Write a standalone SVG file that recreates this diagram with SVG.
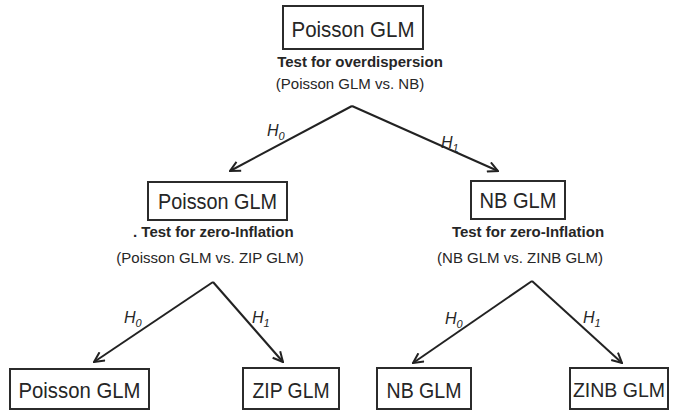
<svg xmlns="http://www.w3.org/2000/svg" width="673" height="411" viewBox="0 0 673 411">
  <style>
    .box { fill: #ffffff; stroke: #2b2b2b; stroke-width: 2; }
    .lbl { font-family: "Liberation Sans", Arial, sans-serif; font-size: 22px; fill: #262626; text-anchor: middle; }
    .test { font-family: "Liberation Sans", Arial, sans-serif; font-size: 15px; font-weight: bold; fill: #262626; text-anchor: middle; }
    .start { text-anchor: start; }
    .cmp { font-family: "Liberation Sans", Arial, sans-serif; font-size: 15px; fill: #262626; text-anchor: middle; }
    .h { font-family: "Liberation Sans", Arial, sans-serif; font-size: 16px; font-style: italic; fill: #262626; }
    .sub { font-size: 11px; }
    .edge { stroke: #222222; stroke-width: 2; fill: none; marker-end: url(#arrow); }
  </style>
  <defs>
    <marker id="arrow" viewBox="0 0 12 12" refX="11" refY="6" markerWidth="12" markerHeight="12" markerUnits="userSpaceOnUse" orient="auto">
      <path d="M1,1 L11,6 L1,11" fill="none" stroke="#222222" stroke-width="2" stroke-linejoin="miter"/>
    </marker>
  </defs>

  <!-- connectors -->
  <g id="connectors">
    <line class="edge" x1="352" y1="106" x2="230" y2="171"/>
    <line class="edge" x1="352" y1="106" x2="498" y2="171"/>
    <line class="edge" x1="213" y1="282" x2="94" y2="362"/>
    <line class="edge" x1="213" y1="282" x2="283" y2="362"/>
    <line class="edge" x1="532" y1="281" x2="413" y2="363"/>
    <line class="edge" x1="532" y1="281" x2="622" y2="363"/>
    <text class="h" x="267" y="136">H<tspan class="sub" dy="4">0</tspan></text>
    <text class="h" x="441" y="148">H<tspan class="sub" dy="4">1</tspan></text>
    <text class="h" x="124" y="323">H<tspan class="sub" dy="4">0</tspan></text>
    <text class="h" x="252" y="323">H<tspan class="sub" dy="4">1</tspan></text>
    <text class="h" x="445" y="324">H<tspan class="sub" dy="4">0</tspan></text>
    <text class="h" x="583" y="323">H<tspan class="sub" dy="4">1</tspan></text>
  </g>

  <!-- root: overdispersion test -->
  <g id="root">
    <rect class="box" x="283" y="6" width="140" height="43"/>
    <text class="lbl" x="353" y="37" textLength="123" lengthAdjust="spacingAndGlyphs">Poisson GLM</text>
    <text class="test" x="360" y="67">Test for overdispersion</text>
    <text class="cmp" x="350" y="89">(Poisson GLM vs. NB)</text>
  </g>

  <!-- H0 branch: Poisson, zero-inflation test -->
  <g id="poisson-mid">
    <rect class="box" x="148" y="182" width="139" height="38"/>
    <text class="lbl" x="217.5" y="209" textLength="119" lengthAdjust="spacingAndGlyphs">Poisson GLM</text>
    <text class="test start" x="133" y="237">. Test for zero-Inflation</text>
    <text class="cmp" x="210" y="263">(Poisson GLM vs. ZIP GLM)</text>
  </g>

  <!-- H1 branch: NB, zero-inflation test -->
  <g id="nb-mid">
    <rect class="box" x="471" y="181" width="94" height="38"/>
    <text class="lbl" x="518" y="208" textLength="77" lengthAdjust="spacingAndGlyphs">NB GLM</text>
    <text class="test" x="528" y="237">Test for zero-Inflation</text>
    <text class="cmp" x="520" y="263">(NB GLM vs. ZINB GLM)</text>
  </g>

  <!-- leaves -->
  <g id="poisson-leaf">
    <rect class="box" x="10" y="369" width="139" height="40"/>
    <text class="lbl" x="79.5" y="398" textLength="122" lengthAdjust="spacingAndGlyphs">Poisson GLM</text>
  </g>
  <g id="zip-leaf">
    <rect class="box" x="243" y="368" width="96" height="41"/>
    <text class="lbl" x="291" y="398" textLength="77" lengthAdjust="spacingAndGlyphs">ZIP GLM</text>
  </g>
  <g id="nb-leaf">
    <rect class="box" x="377" y="368" width="94" height="41"/>
    <text class="lbl" x="424" y="398" textLength="75" lengthAdjust="spacingAndGlyphs">NB GLM</text>
  </g>
  <g id="zinb-leaf">
    <rect class="box" x="570" y="368" width="98" height="41"/>
    <text class="lbl" x="619" y="397" style="font-size:19.5px">ZINB GLM</text>
  </g>
</svg>
